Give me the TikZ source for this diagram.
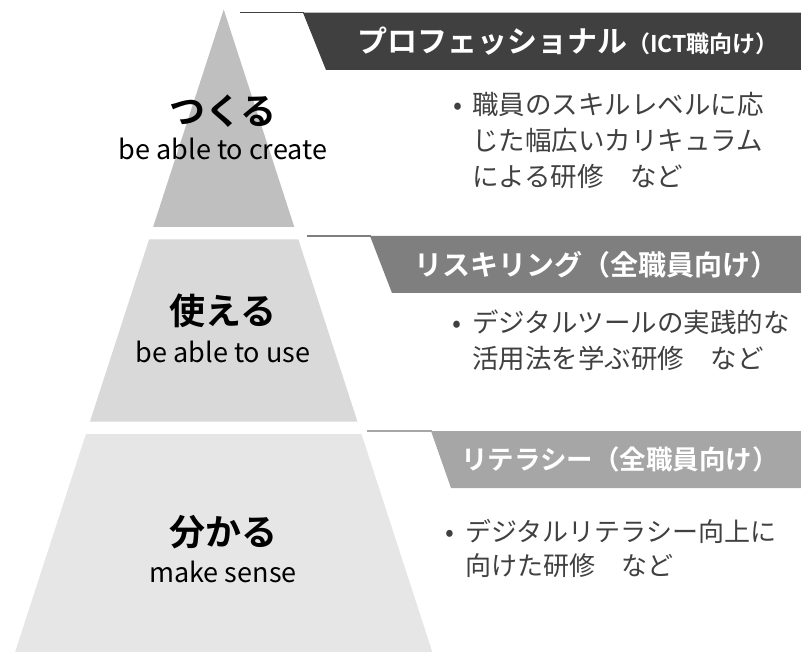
\documentclass[tikz,border=0pt]{standalone}
\usepackage{fontspec}
\setmainfont{Noto Sans CJK JP}[BoldFont={Noto Sans CJK JP Bold}]

\definecolor{tierA}{HTML}{BFBFBF}
\definecolor{tierB}{HTML}{D9D9D9}
\definecolor{tierC}{HTML}{E6E6E6}
\definecolor{barA}{HTML}{404040}
\definecolor{barB}{HTML}{7F7F7F}
\definecolor{barC}{HTML}{A6A6A6}
\definecolor{itemtext}{HTML}{404040}

\tikzset{%
        head/.style={
                anchor=east,
                inner sep=0pt,
                text=white,
                font=\bfseries\fontsize{28}{32}\selectfont
            },
        jplabel/.style={
                inner sep=0pt,
                font=\bfseries\fontsize{36}{40}\selectfont
            },
        enlabel/.style={
                inner sep=0pt,
                font=\fontsize{27}{30}\selectfont
            },
        item/.style={
                anchor=north west,
                inner sep=0pt,
                align=left,
                text=itemtext,
                font=\fontsize{26.5}{36}\selectfont
            }
    }

\begin{document}
\begin{tikzpicture}[x=1pt, y=-1pt]
    \useasboundingbox (0,0) rectangle (801,652);

    % pyramid:
        \fill[tierA] (223.7,9.5) -- (294.3,227) -- (153.1,227) -- cycle;
        \fill[tierB] (149.1,239.3) -- (298.3,239.3) -- (357.5,421.7) -- (89.9,421.7) -- cycle;
        \fill[tierC] (85.9,434) -- (361.5,434) -- (432.3,652) -- (15.1,652) -- cycle;

        \node [jplabel] (tsukuru) at (223,111) {つくる};
        \node [enlabel] (create) at (223,149) {be able to create};
        \node [jplabel] (tsukaeru) at (223,311) {使える};
        \node [enlabel] (use) at (223,352) {be able to use};
        \node [jplabel] (wakaru) at (223,532) {分かる};
        \node [enlabel] (sense) at (223,572) {make sense};

    % headers:
        \draw[barA, line width=1.5pt] (240,12.7) -- (304,12.7);
        \fill[barA] (303,12.7) -- (801,12.7) -- (801,70) -- (326,70) -- cycle;
        \draw[barB, line width=1.5pt] (307,236) -- (371,236);
        \fill[barB] (370,236) -- (801,236) -- (801,293) -- (392,293) -- cycle;
        \draw[barC, line width=1.5pt] (367,431) -- (432,431);
        \fill[barC] (431,431) -- (801,431) -- (801,488) -- (451,488) -- cycle;

        \node [head, font=\bfseries\fontsize{30}{34}\selectfont] (pro) at (779,41.5) {プロフェッショナル{\fontsize{23}{26}\selectfont（ICT職向け）}};
        \node [head] (reskill) at (779,264.5) {リスキリング（全職員向け）};
        \node [head, font=\bfseries\fontsize{26.5}{30}\selectfont] (literacy) at (779,459.5) {リテラシー（全職員向け）};

    % items:
        \node [item] (proitem) at (453,92) {\makebox[19pt][l]{•}職員のスキルレベルに応\\
            \hspace*{19pt}じた幅広いカリキュラム\\
            \hspace*{19pt}による研修　など};
        \node [item] (reskillitem) at (452,310) {\makebox[20pt][l]{•}デジタルツールの実践的な\\
            \hspace*{20pt}活用法を学ぶ研修　など};
        \node [item, font=\fontsize{26}{34}\selectfont] (literacyitem) at (445,519) {\makebox[20pt][l]{•}デジタルリテラシー向上に\\
            \hspace*{20pt}向けた研修　など};
\end{tikzpicture}
\end{document}
